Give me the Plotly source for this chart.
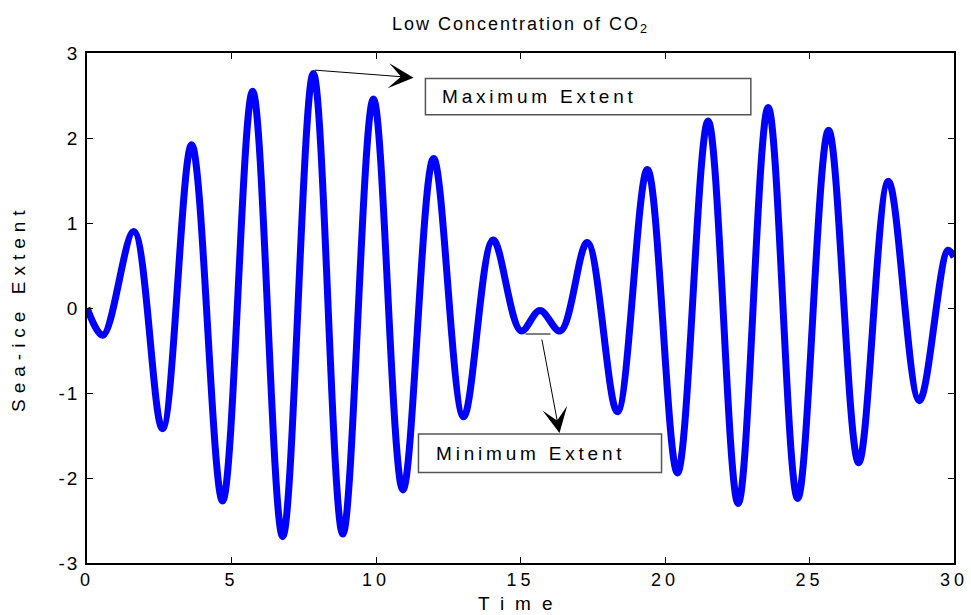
import plotly.graph_objects as go

# Extrema (turning points)
time_pts = [0.00, 0.55, 1.62, 2.61, 3.62, 4.69, 5.73, 6.77, 7.83, 8.85, 9.91,
            10.93, 11.99, 13.03, 14.05, 15.02, 15.67, 16.38, 17.31, 18.35,
            19.39, 20.43, 21.49, 22.53, 23.57, 24.59, 25.66, 26.70, 27.73,
            28.80, 29.79, 30.00]
extent_pts = [0.00, -0.32, 0.90, -1.42, 1.92, -2.27, 2.55, -2.69, 2.76, -2.66, 2.46,
              -2.14, 1.76, -1.28, 0.80, -0.27, -0.03, -0.27, 0.77, -1.22,
              1.63, -1.94, 2.20, -2.30, 2.36, -2.24, 2.09, -1.82, 1.49,
              -1.09, 0.68, 0.60]

x_ticks = [0, 5, 10, 15, 20, 25, 30]
y_ticks = [-3, -2, -1, 0, 1, 2, 3]

FONT = "Liberation Sans, Arial, Helvetica, sans-serif"

fig = go.Figure()
fig.add_trace(go.Scatter(
    x=time_pts, y=extent_pts, mode="lines",
    line=dict(color="#0000FF", width=7, shape="spline", smoothing=1.0),
    showlegend=False, hoverinfo="skip"))

axis_common = dict(showgrid=False, zeroline=False, showline=True, linecolor="black",
                   linewidth=1.5, mirror="allticks", ticks="inside", ticklen=6,
                   tickwidth=1.2, tickcolor="black", automargin=False)

fig.update_xaxes(range=[0, 30], tickvals=x_ticks, ticktext=[str(v) for v in x_ticks],
                 ticklabelstandoff=0,
                 tickfont=dict(family=FONT, size=18, color="black"), **axis_common)
fig.update_yaxes(range=[-3, 3], tickvals=y_ticks, ticktext=[str(v) for v in y_ticks],
                 ticklabelstandoff=2,
                 tickfont=dict(family=FONT, size=19, color="black"), **axis_common)

# Text boxes
fig.add_shape(type="rect", xref="x", yref="y", x0=11.71, x1=22.97, y0=2.274, y1=2.70,
              line=dict(color="#555555", width=1.5), fillcolor="rgba(0,0,0,0)")
fig.add_shape(type="rect", xref="x", yref="y", x0=11.47, x1=19.88, y0=-1.934, y1=-1.482,
              line=dict(color="#555555", width=1.5), fillcolor="rgba(0,0,0,0)")
fig.add_shape(type="line", xref="x", yref="y", x0=15.17, x1=16.04, y0=-0.306, y1=-0.306,
              line=dict(color="black", width=1))

annos = [
    dict(x=12.23, y=2.486, xref="x", yref="y", text="Maximum Extent", showarrow=False,
         xanchor="left", yanchor="middle", align="left",
         font=dict(family=FONT, size=19, color="black")),
    dict(x=12.02, y=-1.708, xref="x", yref="y", text="Minimum Extent", showarrow=False,
         xanchor="left", yanchor="middle", align="left",
         font=dict(family=FONT, size=19, color="black")),
    dict(x=11.30, y=2.71, xref="x", yref="y", ax=7.83, ay=2.80, axref="x", ayref="y",
         text="", showarrow=True, arrowhead=3, arrowsize=4.2, arrowwidth=1,
         arrowcolor="black"),
    dict(x=16.35, y=-1.47, xref="x", yref="y", ax=15.73, ay=-0.353, axref="x", ayref="y",
         text="", showarrow=True, arrowhead=3, arrowsize=4.2, arrowwidth=1,
         arrowcolor="black"),
    dict(x=0.5, y=-0.08, xref="paper", yref="paper", text="Time", showarrow=False,
         xanchor="center", yanchor="middle",
         font=dict(family=FONT, size=19, color="black")),
    dict(x=-0.0796, y=0.5, xref="paper", yref="paper", text="Sea-ice Extent",
         showarrow=False, textangle=-90, xanchor="center", yanchor="middle",
         font=dict(family=FONT, size=19, color="black")),
]
for a in annos:
    fig.add_annotation(**a)

fig.update_layout(
    width=971, height=615, autosize=False,
    margin=dict(l=87, r=17, t=53, b=52, autoexpand=False),
    paper_bgcolor="white", plot_bgcolor="white",
    title=dict(text="Low Concentration of CO<sub>2</sub>", x=0.536, xanchor="center",
               y=0.962, yanchor="middle", yref="container",
               font=dict(family=FONT, size=18, color="black")),
)

post = """
document.body.style.margin = '0';
document.body.style.overflow = 'hidden';
var gd = document.getElementById('{plot_id}');
function ls(sel, v){ gd.querySelectorAll(sel).forEach(function(e){ e.style.letterSpacing = v; }); }
ls('.xtick text', '4px');
ls('.ytick text', '2px');
ls('.gtitle', '2px');
gd.querySelectorAll('.annotation-text').forEach(function(e){
  var t = e.textContent;
  if (t === 'Time') { e.style.letterSpacing = '11px'; }
  else if (t === 'Sea-ice Extent') { e.style.letterSpacing = '6px'; }
  else if (t.indexOf('Extent') >= 0) { e.style.letterSpacing = '3.8px'; }
});
"""

fig.write_html("out.html", post_script=post,
               config={"displayModeBar": False, "responsive": False})
